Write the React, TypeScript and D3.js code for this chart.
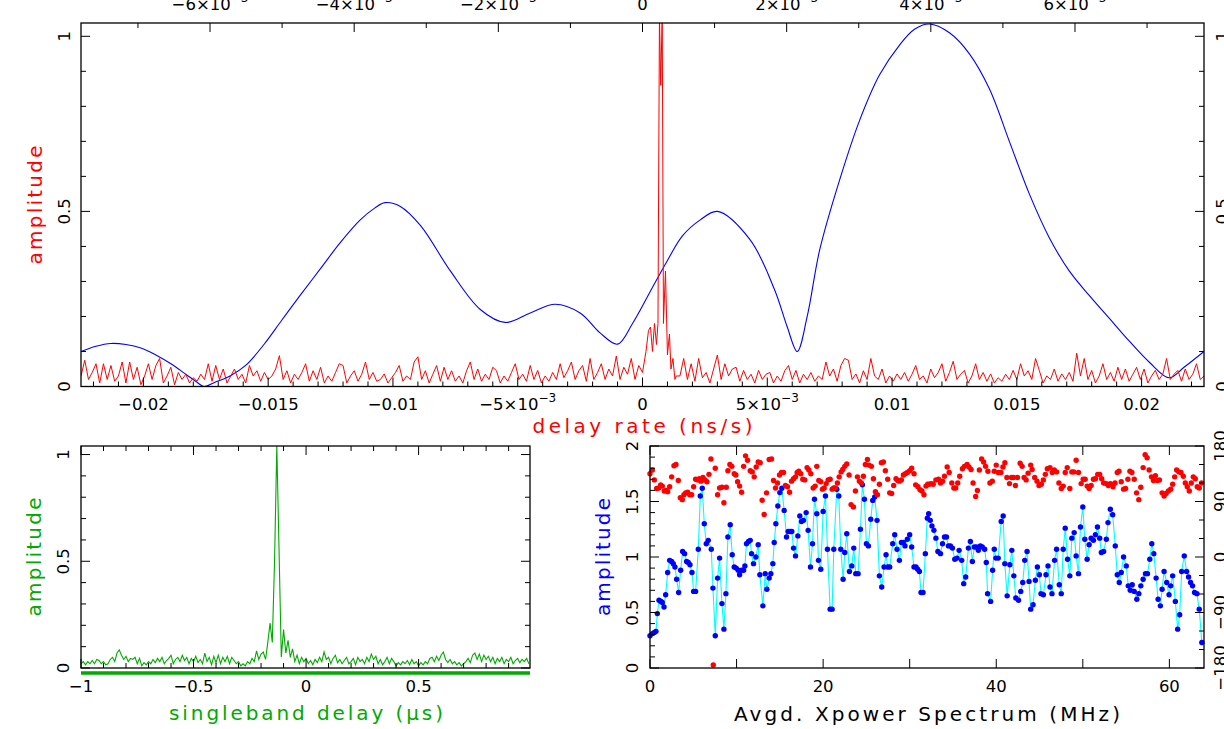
import React from "react";
import * as d3 from "d3";

// ---------- DATA ----------
// top panel: delay-rate spectrum (red), sampled every 0.00015 ns/s from -0.0225
const rateStart = -0.0225;
const rateStep = 0.00015;
const rateNoise = [
  0.03,0.075,0.02,0.04,0.065,0.01,0.065,0.02,0.06,0.015,
  0.03,0.07,0.01,0.07,0.02,0.055,0.005,0.03,0.065,0.02,
  0.06,0.08,0.01,0.03,0.055,0.005,0.04,0.02,0.035,0.01,
  0.025,0.015,0.035,0.02,0.065,0.015,0.06,0.02,0.05,0.01,
  0.03,0.05,0.02,0.035,0.01,0.06,0.03,0.045,0.015,0.04,
  0.02,0.03,0.05,0.088,0.02,0.045,0.01,0.035,0.02,0.04,
  0.065,0.015,0.045,0.02,0.055,0.01,0.03,0.015,0.04,0.065,
  0.06,0.01,0.03,0.045,0.015,0.035,0.07,0.02,0.04,0.015,
  0.02,0.036,0.01,0.025,0.04,0.06,0.015,0.03,0.02,0.07,
  0.085,0.02,0.045,0.01,0.035,0.06,0.015,0.055,0.02,0.045,
  0.015,0.03,0.01,0.045,0.07,0.02,0.05,0.015,0.035,0.02,
  0.055,0.045,0.01,0.03,0.015,0.04,0.065,0.02,0.035,0.015,
  0.06,0.02,0.046,0.01,0.03,0.015,0.04,0.02,0.065,0.025,
  0.045,0.07,0.02,0.045,0.06,0.015,0.08,0.02,0.04,0.065,
  0.02,0.05,0.03,0.087,0.02,0.055,0.035,0.08,0.02,0.06,
  0.04,0.1,0.17,0.12,0.19,1.04,0.33,0.09,0.14,0.03,
  0.03,0.08,0.02,0.065,0.015,0.08,0.025,0.04,0.01,0.05,
  0.09,0.02,0.065,0.03,0.05,0.055,0.015,0.046,0.02,0.035,
  0.01,0.046,0.02,0.035,0.04,0.01,0.03,0.015,0.045,0.06,
  0.02,0.046,0.01,0.035,0.02,0.04,0.015,0.03,0.02,0.07,
  0.03,0.05,0.015,0.06,0.08,0.075,0.02,0.036,0.01,0.045,
  0.02,0.08,0.03,0.02,0.05,0.01,0.03,0.015,0.036,0.02,
  0.04,0.015,0.035,0.06,0.02,0.03,0.01,0.05,0.025,0.04,
  0.065,0.015,0.04,0.072,0.02,0.035,0.046,0.01,0.03,0.065,
  0.02,0.04,0.015,0.036,0.01,0.025,0.015,0.035,0.02,0.046,
  0.02,0.065,0.03,0.045,0.02,0.08,0.046,0.01,0.03,0.02,
  0.05,0.015,0.036,0.02,0.04,0.015,0.095,0.03,0.08,0.02,
  0.046,0.01,0.03,0.065,0.02,0.04,0.015,0.055,0.02,0.05,
  0.015,0.035,0.055,0.02,0.05,0.01,0.03,0.046,0.02,0.035,
  0.08,0.02,0.035,0.046,0.015,0.05,0.02,0.035,0.065,0.02,
  0.03,
];
// finer detail around the fringe peak: [delay rate, amplitude]
const ratePeak: [number, number][] = [
  [0.00014,0.10],[0.00024,0.16],[0.00032,0.17],[0.0004,0.10],[0.00048,0.18],
  [0.00056,0.12],[0.00062,0.18],[0.00068,1.06],[0.00073,0.86],[0.00079,1.06],
  [0.00084,0.18],[0.00092,0.33],[0.001,0.09],[0.00108,0.15],[0.00114,0.05],
  [0.00122,0.08],[0.0013,0.02],
];
// blue multiband-delay function: [delay rate, amplitude]
const mbdCurve: [number, number][] = [
  [-0.0225,0.10],[-0.0219,0.115],[-0.0213,0.123],[-0.0207,0.12],[-0.0201,0.11],
  [-0.0195,0.09],[-0.0189,0.065],[-0.0183,0.035],[-0.01785,0.012],[-0.01757,0.0],
  [-0.01713,0.012],[-0.01653,0.03],[-0.01589,0.061],[-0.01517,0.12],[-0.01445,0.19],
  [-0.01372,0.26],[-0.01292,0.335],[-0.01212,0.41],[-0.01132,0.475],[-0.01072,0.51],
  [-0.01032,0.525],[-0.00972,0.515],
  [-0.0089,0.46],[-0.0077,0.33],[-0.0065,0.22],[-0.0055,0.183],[-0.0045,0.21],
  [-0.0035,0.235],[-0.0025,0.21],[-0.0017,0.153],[-0.001,0.121],[-0.0004,0.18],
  [0.0003,0.27],[0.001,0.36],[0.0016,0.43],[0.0023,0.475],[0.003,0.50],
  [0.0043,0.42],[0.0053,0.275],[0.0058,0.17],[0.0062,0.10],[0.0066,0.2],
  [0.0071,0.39],[0.0079,0.59],[0.0087,0.76],[0.0095,0.89],[0.0103,0.975],
  [0.0109,1.02],[0.0115,1.035],[0.0123,1.01],[0.0131,0.95],[0.0139,0.85],
  [0.0147,0.70],[0.0155,0.55],[0.0163,0.425],[0.0171,0.33],[0.0179,0.26],
  [0.0187,0.195],[0.0195,0.13],[0.0203,0.07],[0.0211,0.025],[0.0217,0.055],
  [0.0225,0.10],
];

// bottom-left: singleband delay function, every 0.01 us from -1
const sbdStart = -1;
const sbdStep = 0.01;
const sbdAmp = [
  0.02,0.03,0.015,0.03,0.02,0.035,0.02,0.04,0.035,0.02,
  0.03,0.015,0.02,0.04,0.05,0.03,0.07,0.085,0.06,0.04,
  0.055,0.03,0.045,0.04,0.05,0.02,0.045,0.01,0.025,0.015,
  0.03,0.02,0.04,0.025,0.045,0.03,0.05,0.02,0.035,0.045,
  0.06,0.02,0.04,0.05,0.03,0.06,0.035,0.05,0.02,0.045,
  0.03,0.055,0.025,0.04,0.02,0.07,0.03,0.05,0.015,0.055,
  0.025,0.06,0.02,0.05,0.03,0.055,0.02,0.05,0.035,0.02,
  0.03,0.01,0.02,0.01,0.03,0.02,0.045,0.03,0.08,0.04,
  0.065,0.075,0.04,0.12,0.21,0.12,0.5,1.04,0.55,0.05,
  0.18,0.07,0.13,0.05,0.09,0.03,0.06,0.02,0.05,0.03,
  0.045,0.02,0.035,0.015,0.04,0.025,0.05,0.03,0.075,0.04,
  0.05,0.02,0.045,0.06,0.025,0.04,0.02,0.035,0.05,0.02,
  0.03,0.045,0.015,0.05,0.03,0.04,0.02,0.05,0.03,0.065,
  0.04,0.055,0.02,0.04,0.015,0.03,0.05,0.02,0.045,0.03,
  0.01,0.025,0.015,0.03,0.02,0.035,0.015,0.04,0.02,0.03,
  0.01,0.025,0.015,0.03,0.02,0.045,0.05,0.03,0.055,0.035,
  0.06,0.075,0.04,0.025,0.04,0.02,0.03,0.015,0.025,0.01,
  0.02,0.03,0.045,0.025,0.06,0.07,0.04,0.065,0.03,0.06,
  0.04,0.055,0.03,0.05,0.02,0.045,0.03,0.05,0.02,0.04,
  0.03,0.05,0.02,0.035,0.045,0.025,0.04,0.03,0.045,0.02,
];

// bottom-right: cross-power spectrum amplitude [MHz, amplitude]
const bandAmplitude: [number, number][] = [
  [0.00,0.29],[0.27,0.31],[0.50,0.32],[0.69,0.33],[0.85,0.49],[1.04,0.61],[1.27,0.60],[1.42,0.59],[1.62,0.55],[1.81,0.66],
  [2.04,0.86],[2.27,0.97],[2.50,0.96],[2.69,0.94],[2.88,0.91],[3.08,0.80],[3.31,0.68],[3.54,0.88],[3.77,1.05],[4.00,1.03],
  [4.23,0.96],[4.42,0.95],[4.62,0.93],[4.85,0.86],[5.04,0.69],[5.27,0.69],[5.58,1.07],[5.81,1.55],[6.04,1.62],[6.27,1.30],
  [6.50,1.12],[6.73,1.15],[7.08,1.07],[7.27,0.72],[7.54,0.29],[7.81,0.81],[8.04,0.99],[8.31,0.58],[8.54,0.35],[8.77,0.67],
  [9.00,1.18],[9.27,1.29],[9.50,1.02],[9.73,0.91],[9.96,0.90],[10.19,0.88],[10.35,0.84],[10.58,0.88],[10.81,0.88],[10.96,0.92],
  [11.15,1.12],[11.38,1.14],[11.58,1.15],[11.73,1.03],[11.96,0.94],[12.23,1.00],[12.50,1.11],[12.69,0.84],[13.04,0.56],[13.31,0.85],
  [13.50,0.71],[13.77,0.81],[13.96,0.85],[14.19,0.94],[14.35,1.13],[14.54,1.30],[14.77,1.46],[15.00,1.58],[15.23,1.62],[15.50,1.42],
  [15.77,1.18],[15.96,1.23],[16.19,1.23],[16.38,1.23],[16.58,1.08],[16.81,1.01],[17.08,1.19],[17.31,1.37],[17.50,1.32],[17.73,1.33],
  [18.04,1.40],[18.27,1.24],[18.54,0.91],[18.77,1.12],[19.00,1.52],[19.27,1.39],[19.46,0.97],[19.73,0.89],[20.00,1.41],[20.27,1.55],
  [20.50,1.07],[20.81,0.53],[21.04,0.53],[21.23,1.07],[21.58,1.61],[21.81,1.55],[22.04,1.07],[22.31,0.80],[22.50,1.04],[22.73,1.21],
  [23.04,0.87],[23.31,0.92],[23.54,1.08],[23.77,0.85],[24.04,0.85],[24.31,1.25],[24.54,1.65],[24.77,1.52],[25.00,1.12],[25.23,1.10],
  [25.50,1.34],[25.73,1.51],[25.96,1.54],[26.23,1.33],[26.50,0.83],[26.77,0.73],[27.04,0.91],[27.27,1.02],[27.46,0.91],[27.69,0.91],
  [28.04,1.12],[28.27,1.20],[28.54,1.07],[28.81,0.97],[29.04,1.13],[29.27,1.13],[29.46,1.10],[29.73,1.16],[30.00,1.20],[30.23,1.09],
  [30.50,0.91],[30.73,0.91],[30.92,0.89],[31.12,0.87],[31.31,0.68],[31.54,0.68],[31.81,1.03],[32.04,1.35],[32.19,1.39],[32.38,1.33],
  [32.57,1.28],[32.80,1.24],[33.03,1.17],[33.26,1.05],[33.56,1.03],[33.79,1.12],[34.02,1.18],[34.25,1.18],[34.48,1.10],[34.71,1.10],
  [34.94,1.08],[35.21,0.98],[35.48,0.99],[35.71,1.06],[36.01,0.97],[36.24,0.76],[36.47,0.82],[36.78,1.08],[37.01,1.14],[37.24,0.96],
  [37.47,1.09],[37.70,1.09],[37.93,1.06],[38.16,1.10],[38.39,1.09],[38.66,1.07],[38.85,0.95],[39.00,0.67],[39.35,0.60],[39.58,0.88],
  [39.77,1.07],[39.96,0.99],[40.23,0.99],[40.57,1.32],[40.80,1.37],[40.99,0.94],[41.26,0.65],[41.57,0.93],[41.80,1.06],[42.03,0.83],
  [42.26,0.63],[42.57,0.61],[42.83,0.69],[43.06,0.77],[43.29,0.97],[43.56,1.05],[43.79,0.78],[43.98,0.53],[44.25,0.57],[44.52,0.79],
  [44.75,0.91],[44.98,0.84],[45.17,0.67],[45.44,0.66],[45.75,0.84],[45.98,0.92],[46.21,0.73],[46.44,0.67],[46.74,0.97],[46.97,1.07],
  [47.28,0.75],[47.51,0.67],[47.74,1.07],[47.97,1.26],[48.24,0.98],[48.50,0.83],[48.73,1.17],[49.00,1.22],[49.23,1.01],[49.50,0.85],
  [49.73,1.27],[50.00,1.45],[50.23,1.16],[50.50,0.98],[50.73,1.11],[50.96,1.17],[51.23,1.15],[51.46,1.20],[51.69,1.27],[51.95,1.17],
  [52.14,1.04],[52.41,1.05],[52.72,1.16],[52.91,1.31],[53.18,1.43],[53.45,1.38],[53.75,1.10],[53.98,0.84],[54.21,0.77],[54.44,0.86],
  [54.71,1.00],[55.02,0.92],[55.25,0.74],[55.48,0.70],[55.71,0.75],[55.94,0.69],[56.24,0.62],[56.47,0.67],[56.70,0.74],[56.97,0.80],
  [57.24,0.85],[57.47,0.85],[57.74,0.98],[57.97,1.12],[58.20,1.03],[58.47,0.81],[58.70,0.62],[58.96,0.56],[59.16,0.71],[59.39,0.87],
  [59.69,0.77],[59.96,0.66],[60.15,0.74],[60.38,0.83],[60.69,0.60],[60.96,0.35],[61.19,0.48],[61.42,0.87],[61.72,1.01],[61.99,0.87],
  [62.22,0.82],[62.45,0.77],[62.68,0.74],[62.91,0.68],[63.18,0.67],[63.45,0.53],[63.75,0.23],
];

// bottom-right: cross-power spectrum phase [MHz, degrees]
const bandPhase: [number, number][] = [
  [0.00,135],[0.27,141],[0.50,125],[0.77,111],[1.00,112],[1.23,117],[1.42,115],[1.65,107],[1.85,108],[2.04,106],
  [2.27,114],[2.50,130],[2.77,148],[3.00,150],[3.27,124],[3.50,96],[3.73,93],[3.92,101],[4.12,104],[4.35,105],
  [4.58,101],[4.81,101],[5.04,114],[5.27,126],[5.50,125],[5.69,127],[5.88,123],[6.12,129],[6.35,125],[6.58,122],
  [6.81,134],[7.04,159],[7.31,-175],[7.54,144],[7.81,101],[8.04,112],[8.31,113],[8.54,88],[8.81,113],[9.00,140],
  [9.23,150],[9.46,147],[9.73,135],[9.92,133],[10.12,122],[10.35,115],[10.58,105],[10.81,147],[11.04,164],[11.27,157],
  [11.58,140],[11.81,138],[12.04,130],[12.27,146],[12.50,154],[12.73,153],[12.96,92],[13.19,69],[13.46,104],[13.77,158],
  [14.04,159],[14.27,124],[14.50,112],[14.73,120],[14.96,133],[15.19,137],[15.42,137],[15.65,116],[15.88,114],[16.12,105],
  [16.35,123],[16.58,127],[16.81,130],[17.00,137],[17.19,139],[17.42,135],[17.65,126],[17.88,125],[18.15,145],[18.35,141],
  [18.58,135],[18.85,112],[19.08,115],[19.27,147],[19.50,124],[19.73,122],[19.92,110],[20.12,112],[20.35,119],[20.58,125],
  [20.81,126],[21.04,110],[21.23,112],[21.42,112],[21.65,120],[21.85,130],[22.08,138],[22.27,142],[22.50,147],[22.73,151],
  [23.00,133],[23.23,85],[23.50,81],[23.73,107],[23.96,130],[24.19,123],[24.42,120],[24.65,131],[24.88,150],[25.12,158],
  [25.31,149],[25.58,147],[25.81,127],[26.04,106],[26.27,101],[26.50,118],[26.73,153],[26.96,154],[27.19,140],[27.46,126],
  [27.69,104],[27.92,103],[28.15,116],[28.42,127],[28.62,124],[28.81,123],[29.04,125],[29.27,133],[29.50,135],[29.73,137],
  [30.00,140],[30.23,144],[30.50,135],[30.69,117],[30.96,114],[31.19,109],[31.42,107],[31.65,101],[31.88,115],[32.08,118],
  [32.26,118],[32.49,119],[32.72,118],[33.03,125],[33.33,126],[33.56,120],[33.79,123],[34.02,131],[34.33,146],[34.56,137],
  [34.87,120],[35.10,112],[35.32,112],[35.55,120],[35.78,131],[36.09,143],[36.32,147],[36.63,150],[36.86,146],[37.09,142],
  [37.32,120],[37.62,98],[37.82,108],[38.05,141],[38.31,159],[38.54,154],[38.77,147],[39.04,139],[39.27,120],[39.54,123],
  [39.77,139],[40.00,149],[40.23,137],[40.54,137],[40.77,146],[41.00,153],[41.23,129],[41.53,119],[41.76,129],[41.99,129],
  [42.22,116],[42.45,129],[42.76,152],[42.99,147],[43.22,129],[43.45,125],[43.68,136],[43.98,149],[44.14,142],[44.44,129],
  [44.71,123],[44.94,116],[45.21,118],[45.44,125],[45.67,134],[45.90,143],[46.21,145],[46.47,137],[46.70,141],[46.97,138],
  [47.24,120],[47.51,111],[47.74,115],[47.97,137],[48.20,145],[48.50,111],[48.73,138],[48.96,138],[49.23,157],[49.50,137],
  [49.81,119],[50.04,126],[50.27,126],[50.50,115],[50.73,111],[50.96,116],[51.23,126],[51.46,127],[51.72,134],[51.95,134],
  [52.18,127],[52.41,120],[52.72,119],[52.95,116],[53.18,119],[53.49,114],[53.72,120],[53.98,137],[54.18,139],[54.44,122],
  [54.71,110],[54.94,111],[55.21,126],[55.44,139],[55.67,137],[55.94,126],[56.21,104],[56.47,93],[56.70,113],[56.97,145],
  [57.20,166],[57.43,161],[57.66,141],[57.93,130],[58.16,124],[58.39,132],[58.62,124],[58.85,125],[59.16,104],[59.39,99],
  [59.62,103],[59.88,107],[60.15,110],[60.38,118],[60.61,130],[60.84,141],[61.11,138],[61.34,137],[61.61,131],[61.84,120],
  [62.07,114],[62.30,107],[62.53,120],[62.76,130],[62.99,127],[63.22,114],[63.45,112],[63.72,120],
];

// tick labels
const rateTickValues = [-0.02, -0.015, -0.01, -0.005, 0, 0.005, 0.01, 0.015, 0.02];
const rateTickLabels: [string, string][] = [
  ["−0.02", ""], ["−0.015", ""], ["−0.01", ""], ["−5×10", "−3"], ["0", ""],
  ["5×10", "−3"], ["0.01", ""], ["0.015", ""], ["0.02", ""],
];
const mbdTickValues = [-6, -4, -2, 0, 2, 4, 6];
const mbdTickLabels: [string, string][] = [
  ["−6×10", "−3"], ["−4×10", "−3"], ["−2×10", "−3"], ["0", ""],
  ["2×10", "−3"], ["4×10", "−3"], ["6×10", "−3"],
];
const unitAmpTicks = [0, 0.5, 1];
const unitAmpLabels = ["0", "0.5", "1"];
const sbdTickValues = [-1, -0.5, 0, 0.5];
const sbdTickLabels = ["−1", "−0.5", "0", "0.5"];
const freqTickValues = [0, 20, 40, 60];
const freqTickLabels = ["0", "20", "40", "60"];
const bandAmpTicks = [0, 0.5, 1, 1.5, 2];
const bandAmpLabels = ["0", "0.5", "1", "1.5", "2"];
const phaseTicks = [-180, -90, 0, 90, 180];
const phaseLabels = ["−180", "−90", "0", "90", "180"];

// ---------- DRAWING ----------
const FONT = "'DejaVu Sans', 'Liberation Sans', sans-serif";
const RED = "#ff0000";
const BLUE = "#0000ff";
const GREEN = "#00aa00";
const CYAN = "#00ffff";
const TICK_FS = 16.5;

type Tk = { v: number; major: boolean };
type Scale = (v: number) => number;

function VTicks({ ticks, scale, x, dir, maj, min }: { ticks: Tk[]; scale: Scale; x: number; dir: number; maj: number; min: number }) {
  return (
    <g stroke="#000" strokeWidth={1}>
      {ticks.map((t, i) => (
        <line key={i} x1={x} x2={x + dir * (t.major ? maj : min)} y1={scale(t.v)} y2={scale(t.v)} />
      ))}
    </g>
  );
}
function HTicks({ ticks, scale, y, dir, maj, min }: { ticks: Tk[]; scale: Scale; y: number; dir: number; maj: number; min: number }) {
  return (
    <g stroke="#000" strokeWidth={1}>
      {ticks.map((t, i) => (
        <line key={i} y1={y} y2={y + dir * (t.major ? maj : min)} x1={scale(t.v)} x2={scale(t.v)} />
      ))}
    </g>
  );
}
function SupLabel({ x, y, main, sup, fill = "#000" }: { x: number; y: number; main: string; sup: string; fill?: string }) {
  return (
    <text x={x} y={y} textAnchor="middle" fontSize={TICK_FS} fill={fill}>
      {main}
      {sup ? (
        <tspan dy={-8} fontSize={12}>
          {sup}
        </tspan>
      ) : null}
    </text>
  );
}
function RotLabel({ x, y, text, fs = TICK_FS, fill = "#000", len }: { x: number; y: number; text: string; fs?: number; fill?: string; len?: number }) {
  return (
    <text
      transform={`translate(${x},${y}) rotate(-90)`}
      textAnchor="middle"
      fontSize={fs}
      fill={fill}
      {...(len ? { textLength: len, lengthAdjust: "spacing" } : {})}
    >
      {text}
    </text>
  );
}

export default function App() {
  // frames
  const T = { x0: 81, x1: 1204, y0: 23, y1: 386.5 };
  const BL = { x0: 81, x1: 530, y0: 446, y1: 668 };
  const BR = { x0: 650, x1: 1204, y0: 446, y1: 668 };

  const rateX = d3.scaleLinear().domain([-0.0225, 0.0225]).range([T.x0, T.x1]);
  const mbdX = d3.scaleLinear().domain([-7.79, 7.79]).range([T.x0, T.x1]);
  const topY = d3.scaleLinear().domain([0, 1.038]).range([T.y1, T.y0]);
  const sbdX = d3.scaleLinear().domain([-1, 0.995]).range([BL.x0, BL.x1]);
  const sbdY = d3.scaleLinear().domain([0, 1.04]).range([BL.y1, BL.y0]);
  const freqX = d3.scaleLinear().domain([0, 64]).range([BR.x0, BR.x1]);
  const ampY = d3.scaleLinear().domain([0, 2]).range([BR.y1, BR.y0]);
  const phaseY = d3.scaleLinear().domain([-180, 180]).range([BR.y1, BR.y0]);

  // red rate spectrum points
  const ratePts: [number, number][] = rateNoise
    .map((a, i) => [rateStart + i * rateStep, a] as [number, number])
    .filter((p) => p[0] < 0.0001 || p[0] > 0.00134)
    .concat(ratePeak)
    .sort((a, b) => a[0] - b[0]);
  const rateLine = d3.line<[number, number]>().x((d) => rateX(d[0])).y((d) => topY(d[1]));
  const mbdLine = d3
    .line<[number, number]>()
    .x((d) => rateX(d[0]))
    .y((d) => topY(d[1]))
    .curve(d3.curveCatmullRom.alpha(0.5));
  const sbdPts: [number, number][] = sbdAmp.map((a, i) => [sbdStart + i * sbdStep, a]);
  const sbdLine = d3.line<[number, number]>().x((d) => sbdX(d[0])).y((d) => sbdY(d[1]));
  const bandLine = d3.line<[number, number]>().x((d) => freqX(d[0])).y((d) => ampY(d[1]));

  // ticks
  const tkUnitY: Tk[] = d3.range(0, 11).map((i) => ({ v: i / 10, major: i % 5 === 0 }));
  const tkRate: Tk[] = d3.range(-22, 23).map((i) => ({ v: i / 1000, major: i % 5 === 0 }));
  const tkMbd: Tk[] = d3.range(-7, 8).map((i) => ({ v: i, major: i % 2 === 0 }));
  const tkSbdX: Tk[] = d3.range(-10, 10).map((i) => ({ v: i / 10, major: i % 5 === 0 }));
  const tkFreq: Tk[] = d3.range(0, 7).map((i) => ({ v: i * 10, major: true }));
  const tkBandAmp: Tk[] = d3.range(0, 21).map((i) => ({ v: i / 10, major: i % 5 === 0 }));
  const tkPhase: Tk[] = d3.range(-6, 7).map((i) => ({ v: i * 30, major: i % 3 === 0 }));

  return (
    <svg
      width={1224}
      height={729}
      style={{ position: "absolute", left: 0, top: 0, background: "#fff" }}
      fontFamily={FONT}
    >
      <defs>
        <clipPath id="clipT">
          <rect x={T.x0} y={T.y0} width={T.x1 - T.x0} height={T.y1 - T.y0} />
        </clipPath>
        <clipPath id="clipBL">
          <rect x={BL.x0} y={BL.y0} width={BL.x1 - BL.x0} height={BL.y1 - BL.y0 + 1} />
        </clipPath>
      </defs>

      {/* ===== TOP PANEL ===== */}
      <g clipPath="url(#clipT)" fill="none">
        <path d={mbdLine(mbdCurve) || ""} stroke={BLUE} strokeWidth={1.1} />
        <path d={rateLine(ratePts) || ""} stroke={RED} strokeWidth={1} />
      </g>
      <rect x={T.x0} y={T.y0} width={T.x1 - T.x0} height={T.y1 - T.y0} fill="none" stroke="#000" strokeWidth={1.3} />
      <VTicks ticks={tkUnitY} scale={topY} x={T.x0} dir={1} maj={9} min={5} />
      <VTicks ticks={tkUnitY} scale={topY} x={T.x1} dir={-1} maj={9} min={5} />
      <HTicks ticks={tkRate} scale={rateX} y={T.y1} dir={-1} maj={9} min={5} />
      <HTicks ticks={tkMbd} scale={mbdX} y={T.y0} dir={1} maj={9} min={5} />
      {unitAmpTicks.map((v, i) => (
        <RotLabel key={"tl" + i} x={T.x0 - 11} y={topY(v)} text={unitAmpLabels[i]} />
      ))}
      {unitAmpTicks.map((v, i) => (
        <RotLabel key={"tr" + i} x={T.x1 + 24} y={topY(v)} text={unitAmpLabels[i]} />
      ))}
      {rateTickValues.map((v, i) => (
        <SupLabel key={"rx" + i} x={rateX(v)} y={410} main={rateTickLabels[i][0]} sup={rateTickLabels[i][1]} />
      ))}
      {mbdTickValues.map((v, i) => (
        <SupLabel key={"mx" + i} x={mbdX(v)} y={10} main={mbdTickLabels[i][0]} sup={mbdTickLabels[i][1]} />
      ))}
      <text x={642.5} y={433} textAnchor="middle" fontSize={20} fill={RED} textLength={220} lengthAdjust="spacing">
        delay rate (ns/s)
      </text>
      <RotLabel x={42} y={205} text="amplitude" fs={20} fill={RED} len={119} />

      {/* ===== BOTTOM LEFT ===== */}
      <g clipPath="url(#clipBL)" fill="none">
        <path d={sbdLine(sbdPts) || ""} stroke={GREEN} strokeWidth={1.1} />
      </g>
      <rect x={BL.x0} y={BL.y0} width={BL.x1 - BL.x0} height={BL.y1 - BL.y0} fill="none" stroke="#000" strokeWidth={1.3} />
      <VTicks ticks={tkUnitY} scale={sbdY} x={BL.x0} dir={1} maj={9} min={5} />
      <VTicks ticks={tkUnitY} scale={sbdY} x={BL.x1} dir={-1} maj={9} min={5} />
      <HTicks ticks={tkSbdX} scale={sbdX} y={BL.y0} dir={1} maj={9} min={5} />
      <HTicks ticks={tkSbdX} scale={sbdX} y={BL.y1} dir={-1} maj={9} min={5} />
      <line x1={BL.x0} x2={BL.x1} y1={673} y2={673} stroke={GREEN} strokeWidth={3.5} />
      {unitAmpTicks.map((v, i) => (
        <RotLabel key={"bly" + i} x={BL.x0 - 12} y={sbdY(v)} text={unitAmpLabels[i]} />
      ))}
      {sbdTickValues.map((v, i) => (
        <text key={"blx" + i} x={sbdX(v)} y={692} textAnchor="middle" fontSize={TICK_FS}>
          {sbdTickLabels[i]}
        </text>
      ))}
      <text x={306} y={720} textAnchor="middle" fontSize={20} fill={GREEN} textLength={274} lengthAdjust="spacing">
        singleband delay (μs)
      </text>
      <RotLabel x={41} y={557} text="amplitude" fs={20} fill={GREEN} len={119} />

      {/* ===== BOTTOM RIGHT ===== */}
      <path d={bandLine(bandAmplitude) || ""} fill="none" stroke={CYAN} strokeWidth={1.1} />
      <g fill={BLUE}>
        {bandAmplitude.map((d, i) => (
          <circle key={"ba" + i} cx={freqX(d[0])} cy={ampY(d[1])} r={2.7} />
        ))}
      </g>
      <g fill={RED}>
        {bandPhase.map((d, i) => (
          <circle key={"bp" + i} cx={freqX(d[0])} cy={phaseY(d[1])} r={2.7} />
        ))}
      </g>
      <rect x={BR.x0} y={BR.y0} width={BR.x1 - BR.x0} height={BR.y1 - BR.y0} fill="none" stroke="#000" strokeWidth={1.3} />
      <VTicks ticks={tkBandAmp} scale={ampY} x={BR.x0} dir={1} maj={9} min={5} />
      <VTicks ticks={tkPhase} scale={phaseY} x={BR.x1} dir={-1} maj={9} min={5} />
      <HTicks ticks={tkFreq} scale={freqX} y={BR.y0} dir={1} maj={9} min={5} />
      <HTicks ticks={tkFreq} scale={freqX} y={BR.y1} dir={-1} maj={9} min={5} />
      {bandAmpTicks.map((v, i) => (
        <RotLabel key={"bry" + i} x={BR.x0 - 12} y={ampY(v)} text={bandAmpLabels[i]} />
      ))}
      {phaseTicks.map((v, i) => (
        <RotLabel key={"brp" + i} x={BR.x1 + 22} y={phaseY(v)} text={phaseLabels[i]} />
      ))}
      {freqTickValues.map((v, i) => (
        <text key={"brx" + i} x={freqX(v)} y={692} textAnchor="middle" fontSize={TICK_FS}>
          {freqTickLabels[i]}
        </text>
      ))}
      <text x={927} y={721} textAnchor="middle" fontSize={20} fill="#000" textLength={386} lengthAdjust="spacing">
        Avgd. Xpower Spectrum (MHz)
      </text>
      <RotLabel x={610} y={557} text="amplitude" fs={20} fill={BLUE} len={118} />
    </svg>
  );
}
